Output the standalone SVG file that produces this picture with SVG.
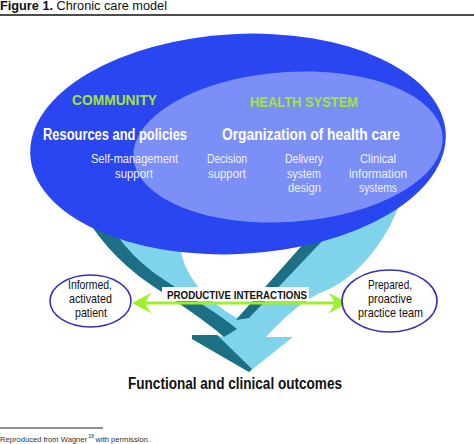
<svg xmlns="http://www.w3.org/2000/svg" width="474" height="444" viewBox="0 0 474 444">
<style>
text{font-family:"Liberation Sans",Arial,sans-serif;}
.title{font-size:12.5px;fill:#111;}
.grp{font-size:15px;font-weight:bold;fill:#a6e23c;text-anchor:middle;}
.head{font-size:16px;font-weight:bold;fill:#ffffff;text-anchor:middle;}
.sub{font-size:12.5px;fill:#eef2ff;text-anchor:middle;}
.node{fill:#ffffff;stroke:#3434b4;stroke-width:1.6;}
.ntext{font-size:13px;fill:#111;text-anchor:middle;}
.teal{fill:#1d6f86;}
.cyan{fill:#7fd4ec;}
.green{fill:#9cf02c;}
.foot{font-size:7.6px;fill:#333;}
.sup{font-size:5px;fill:#333;}
</style>

<text class="title" x="0" y="10" textLength="167" lengthAdjust="spacingAndGlyphs"><tspan font-weight="bold">Figure 1.</tspan> Chronic care model</text>
<line x1="0" y1="15" x2="474" y2="15" stroke="#111" stroke-width="1.4"/>

<g id="flow-arrows">
<path class="cyan" d="M95,200 L190,200 L180,245 C183,275 205,300 237,318 L330,216 L403,195 C390,235 362,275 325,291 Q300,300 266,337 L293,337 L249,372 L192,339 L192,335 L217,335 L224,337 C205,320 175,301 150,284 C118,262 92,232 80,205 Z"/>
<path class="teal" d="M80,205 C92,232 118,262 150,284 C175,301 205,320 224,337 L237,329 C218,313 185,294 160,277 C135,260 112,235 102,205 Z"/>
<path class="teal" d="M236,320 L328,216 L346,216 L249,318 Z"/>
<path class="teal" d="M192,335 L217,335 L252,369 L249,372 L192,339 Z"/>
</g>

<g id="community">
<ellipse cx="238" cy="144" rx="208" ry="110" fill="#2a46f0" transform="rotate(-3 238 144)"/>
<text class="grp" x="114.5" y="105" textLength="85" lengthAdjust="spacingAndGlyphs">COMMUNITY</text>
</g>

<g id="health-system">
<ellipse cx="288" cy="147" rx="155" ry="75" fill="#7b8ff6" transform="rotate(-4 288 147)"/>
<text class="grp" x="304" y="107" textLength="108" lengthAdjust="spacingAndGlyphs">HEALTH SYSTEM</text>
</g>

<g id="resources-policies">
<text class="head" x="115" y="140" textLength="144" lengthAdjust="spacingAndGlyphs">Resources and policies</text>
</g>
<g id="organization">
<text class="head" x="311" y="140" textLength="178" lengthAdjust="spacingAndGlyphs">Organization of health care</text>
</g>
<g id="self-management">
<text class="sub" x="134.5" y="163" textLength="87" lengthAdjust="spacingAndGlyphs">Self-management</text>
<text class="sub" x="134" y="178" textLength="38" lengthAdjust="spacingAndGlyphs">support</text>
</g>
<g id="decision-support">
<text class="sub" x="227" y="163" textLength="40" lengthAdjust="spacingAndGlyphs">Decision</text>
<text class="sub" x="227" y="178" textLength="38" lengthAdjust="spacingAndGlyphs">support</text>
</g>
<g id="delivery-system">
<text class="sub" x="304" y="163" textLength="38" lengthAdjust="spacingAndGlyphs">Delivery</text>
<text class="sub" x="304" y="178" textLength="34" lengthAdjust="spacingAndGlyphs">system</text>
<text class="sub" x="304.5" y="192" textLength="33" lengthAdjust="spacingAndGlyphs">design</text>
</g>
<g id="clinical-info">
<text class="sub" x="378" y="163" textLength="36" lengthAdjust="spacingAndGlyphs">Clinical</text>
<text class="sub" x="378" y="178" textLength="58" lengthAdjust="spacingAndGlyphs">information</text>
<text class="sub" x="378" y="192" textLength="38" lengthAdjust="spacingAndGlyphs">systems</text>
</g>

<g id="connectors">
<line x1="146" y1="303" x2="334" y2="303" stroke="#9cf02c" stroke-width="3"/>
<path class="green" d="M132,303 L152,292.5 Q146,299 146,303 Q146,307 152,313.5 Z"/>
<path class="green" d="M348,303 L328,292.5 Q334,299 334,303 Q334,307 328,313.5 Z"/>
<rect x="162" y="287" width="147" height="14" fill="#ffffff"/>
<text x="237" y="299" font-size="11.5" font-weight="bold" fill="#111" text-anchor="middle" textLength="140" lengthAdjust="spacingAndGlyphs">PRODUCTIVE INTERACTIONS</text>
</g>

<g id="patient">
<ellipse class="node" cx="90.5" cy="301" rx="40.5" ry="26"/>
<text class="ntext" x="90" y="289" textLength="44" lengthAdjust="spacingAndGlyphs">Informed,</text>
<text class="ntext" x="90.5" y="303" textLength="43" lengthAdjust="spacingAndGlyphs">activated</text>
<text class="ntext" x="91" y="317" textLength="32" lengthAdjust="spacingAndGlyphs">patient</text>
</g>

<g id="team">
<ellipse class="node" cx="389.5" cy="301" rx="47.5" ry="31"/>
<text class="ntext" x="390" y="289" textLength="44" lengthAdjust="spacingAndGlyphs">Prepared,</text>
<text class="ntext" x="390" y="303" textLength="44" lengthAdjust="spacingAndGlyphs">proactive</text>
<text class="ntext" x="390.5" y="317" textLength="65" lengthAdjust="spacingAndGlyphs">practice team</text>
</g>

<g id="outcomes">
<text x="235" y="389" font-size="16" font-weight="bold" fill="#111" text-anchor="middle" textLength="214" lengthAdjust="spacingAndGlyphs">Functional and clinical outcomes</text>
</g>

<line x1="0" y1="428" x2="103" y2="428" stroke="#222" stroke-width="1"/>
<text class="foot" x="0" y="442">Reproduced from Wagner</text>
<text class="sup" x="88.5" y="438">28</text>
<text class="foot" x="95.5" y="442">with permission.</text>
</svg>
